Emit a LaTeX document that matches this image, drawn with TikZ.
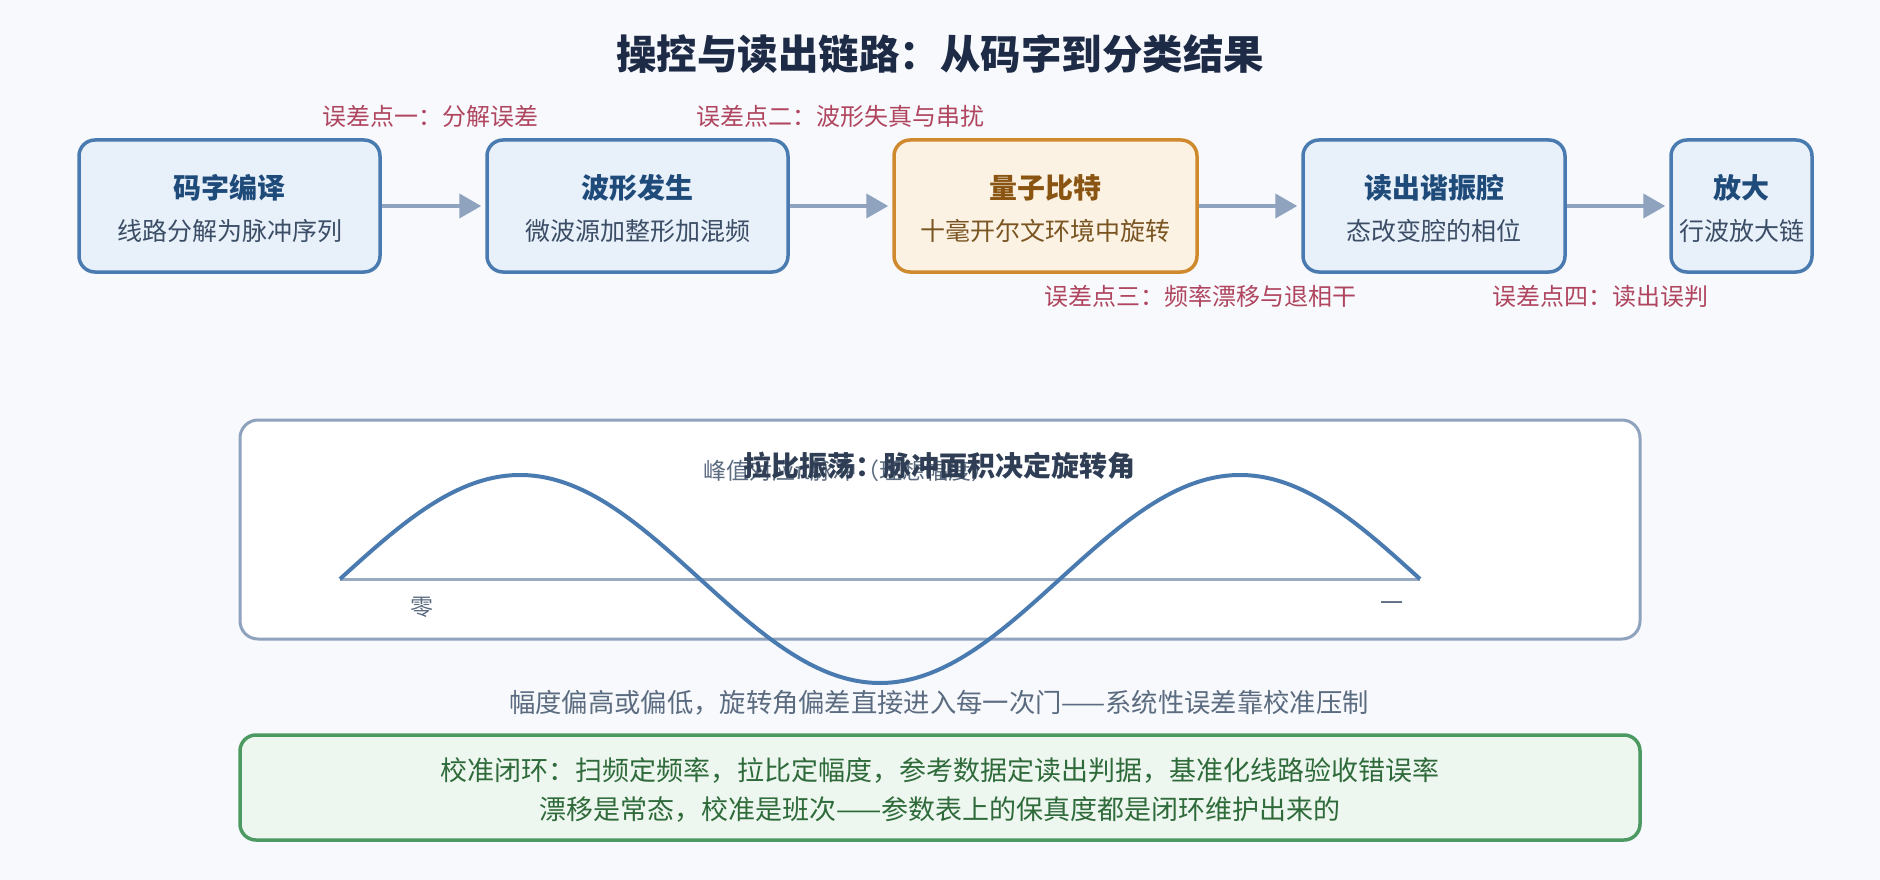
\documentclass[tikz,border=0pt]{standalone}
\usepackage{fontspec}
\setmainfont{Noto Sans CJK SC}
\usetikzlibrary{arrows.meta}
\definecolor{bg}{HTML}{F7F9FC}
\definecolor{bluebd}{HTML}{4A7BB0}
\definecolor{bluefill}{HTML}{E8F0FA}
\definecolor{orbd}{HTML}{D08A2E}
\definecolor{orfill}{HTML}{FCF2E3}
\definecolor{titlec}{HTML}{1E2B47}
\definecolor{btitle}{HTML}{1F4B7A}
\definecolor{bsub}{HTML}{3B4E66}
\definecolor{otitle}{HTML}{8A5512}
\definecolor{osub}{HTML}{7A5522}
\definecolor{errc}{HTML}{B0455F}
\definecolor{arrc}{HTML}{8FA2BE}
\definecolor{ptitle}{HTML}{2F3E55}
\definecolor{grayc}{HTML}{5B6B80}
\definecolor{greenbd}{HTML}{4C9A62}
\definecolor{greenfill}{HTML}{EDF7EF}
\definecolor{greentx}{HTML}{2F6A3A}
\definecolor{wavec}{HTML}{4A7BB0}
\definecolor{axisc}{HTML}{9AAAC0}
\newcommand{\fsz}[1]{\fontsize{#1pt}{#1pt}\selectfont}
\tikzset{
  stagebox/.style={draw=bluebd, fill=bluefill, line width=3.5pt, rounded corners=16pt, minimum height=132pt, inner sep=0pt},
  qbox/.style={stagebox, draw=orbd, fill=orfill},
  btitletx/.style={font=\fsz{28}\bfseries, text=btitle, inner sep=0pt, anchor=center},
  bsubtx/.style={font=\fsz{25}, text=bsub, inner sep=0pt, anchor=center},
  errtx/.style={font=\fsz{24}, text=errc, inner sep=0pt, anchor=center},
  flow/.style={draw=arrc, line width=4pt, -{Triangle[length=22pt,width=24pt]}, shorten >=4pt},
}
\begin{document}
\begin{tikzpicture}[x=1pt, y=-1pt]
\fill[bg] (0,0) rectangle (1880,880);
\useasboundingbox (0,0) rectangle (1880,880);

\node[font=\fsz{40.5}\bfseries, text=titlec, inner sep=0pt] (title) at (940,54) {操控与读出链路：从码字到分类结果};

% stage boxes
\node[stagebox, minimum width=301pt] (b1) at (229.5,206) {};
\node[stagebox, minimum width=301pt] (b2) at (637.5,206) {};
\node[qbox, minimum width=303pt] (b3) at (1045.5,206) {};
\node[stagebox, minimum width=262pt] (b4) at (1434,206) {};
\node[stagebox, minimum width=141pt] (b5) at (1741.5,206) {};

\node[btitletx] (b1t) at (229.5,188) {码字编译};
\node[bsubtx] (b1s) at (229.5,231) {线路分解为脉冲序列};
\node[btitletx] (b2t) at (637.5,188) {波形发生};
\node[bsubtx] (b2s) at (637.5,231) {微波源加整形加混频};
\node[btitletx, text=otitle] (b3t) at (1045.5,188) {量子比特};
\node[bsubtx, text=osub] (b3s) at (1045.5,231) {十毫开尔文环境中旋转};
\node[btitletx] (b4t) at (1434,188) {读出谐振腔};
\node[bsubtx] (b4s) at (1434,231) {态改变腔的相位};
\node[btitletx] (b5t) at (1741.5,188) {放大};
\node[bsubtx] (b5s) at (1741.5,231) {行波放大链};

\draw[flow] (b1.east) -- (b2.west);
\draw[flow] (b2.east) -- (b3.west);
\draw[flow] (b3.east) -- (b4.west);
\draw[flow] (b4.east) -- (b5.west);

% error labels
\node[errtx] (e1) at (430,116) {误差点一：分解误差};
\node[errtx] (e2) at (840,116) {误差点二：波形失真与串扰};
\node[errtx] (e3) at (1200,296) {误差点三：频率漂移与退相干};
\node[errtx] (e4) at (1600,296) {误差点四：读出误判};

% Rabi panel
\node[draw=arrc, fill=white, line width=3pt, rounded corners=18pt, minimum width=1400pt, minimum height=219pt, inner sep=0pt] (panel) at (940,529.5) {};
\draw[axisc, line width=3pt] (340,579) -- (1420,579);
\draw[wavec, line width=4pt, line join=round] plot[domain=340:1420, samples=241, smooth] ({\x},{579-104*sin(0.5*(\x-340))});
\node[font=\fsz{23}, text=grayc, inner sep=0pt, anchor=west] (peak) at (703,471) {峰值对应π脉冲（理想幅度）};
\node[font=\fsz{28}\bfseries, text=ptitle, inner sep=0pt] (ptitle) at (939,466) {拉比振荡：脉冲面积决定旋转角};
\node[font=\fsz{23}, text=grayc, inner sep=0pt] (zero) at (422,607) {零};
\node[font=\fsz{23}, text=grayc, inner sep=0pt] (one) at (1392,607) {一};

\node[font=\fsz{26.3}, text=grayc, inner sep=0pt] (caption) at (939,703) {幅度偏高或偏低，旋转角偏差直接进入每一次门——系统性误差靠校准压制};

% calibration box
\node[draw=greenbd, fill=greenfill, line width=3.5pt, rounded corners=16pt, minimum width=1400pt, minimum height=105pt, inner sep=0pt] (calib) at (940,787.5) {};
\node[font=\fsz{27}, text=greentx, inner sep=0pt] (c1) at (940,771) {校准闭环：扫频定频率，拉比定幅度，参考数据定读出判据，基准化线路验收错误率};
\node[font=\fsz{27}, text=greentx, inner sep=0pt] (c2) at (940,810) {漂移是常态，校准是班次——参数表上的保真度都是闭环维护出来的};
\end{tikzpicture}
\end{document}
